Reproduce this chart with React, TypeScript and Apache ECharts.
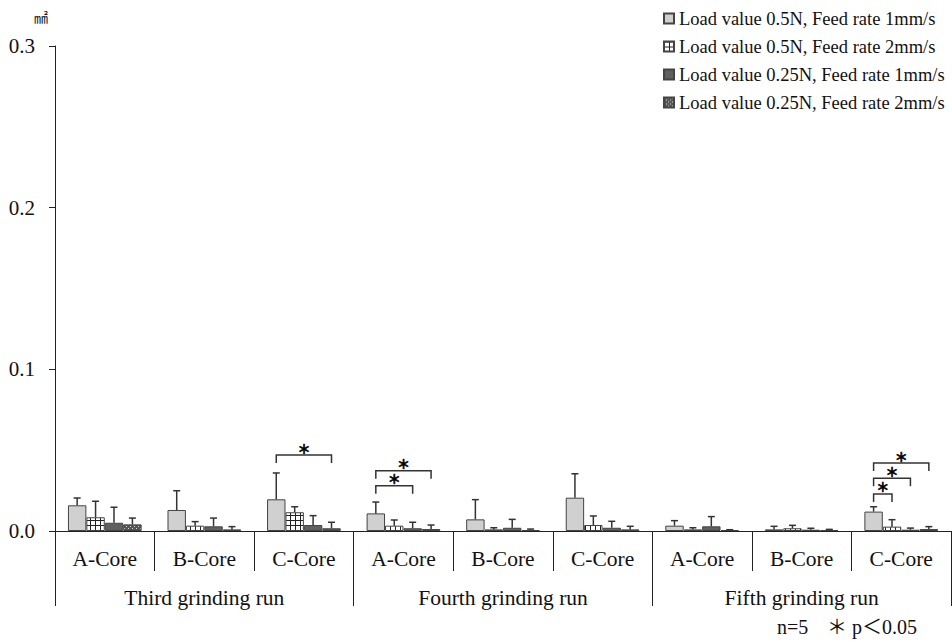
import React, { useEffect, useRef } from "react";
import * as echarts from "echarts";

// Cores within each grinding run
const categories = [
  "A-Core", "B-Core", "C-Core",
  "A-Core", "B-Core", "C-Core",
  "A-Core", "B-Core", "C-Core",
];
const runs = ["Third grinding run", "Fourth grinding run", "Fifth grinding run"];

const seriesNames = [
  "Load value 0.5N, Feed rate 1mm/s",
  "Load value 0.5N, Feed rate 2mm/s",
  "Load value 0.25N, Feed rate 1mm/s",
  "Load value 0.25N, Feed rate 2mm/s",
];

// Mean worn area (mm²)
const meanLoad05Feed1 = [0.0159, 0.013, 0.0196, 0.0109, 0.0072, 0.0206, 0.0033, 0.001, 0.012];
const meanLoad05Feed2 = [0.0085, 0.0033, 0.0116, 0.0033, 0.001, 0.0037, 0.001, 0.0017, 0.0027];
const meanLoad025Feed1 = [0.0051, 0.0029, 0.0037, 0.0017, 0.002, 0.002, 0.0029, 0.0008, 0.0008];
const meanLoad025Feed2 = [0.0041, 0.001, 0.0017, 0.0012, 0.0006, 0.001, 0.0006, 0.0006, 0.0012];

// Standard deviations (upper error bars)
const sdLoad05Feed1 = [0.0045, 0.0119, 0.0163, 0.007, 0.0122, 0.0148, 0.0031, 0.0019, 0.003];
const sdLoad05Feed2 = [0.0099, 0.0025, 0.0034, 0.0035, 0.001, 0.0056, 0.001, 0.0018, 0.0043];
const sdLoad025Feed1 = [0.0096, 0.0051, 0.0058, 0.0037, 0.0052, 0.004, 0.006, 0.0009, 0.001];
const sdLoad025Feed2 = [0.0039, 0.0017, 0.0037, 0.0025, 0.0006, 0.0019, 0.0002, 0.0004, 0.0015];

// Significant pairs: [category index, first bar, second bar, bracket height]
const significance: [number, number, number, number][] = [
  [2, 0, 3, 0.047],
  [3, 0, 2, 0.028],
  [3, 0, 3, 0.0373],
  [8, 0, 1, 0.0229],
  [8, 0, 2, 0.0326],
  [8, 0, 3, 0.042],
];

const yTicks = [0, 0.1, 0.2, 0.3];

const means = [meanLoad05Feed1, meanLoad05Feed2, meanLoad025Feed1, meanLoad025Feed2];
const sds = [sdLoad05Feed1, sdLoad05Feed2, sdLoad025Feed1, sdLoad025Feed2];

const CAT_GAP = 0.26;
const SERIF = "Liberation Serif";
const CJK = "Noto Sans CJK JP";

function makeGridPattern(): HTMLCanvasElement {
  const c = document.createElement("canvas");
  c.width = 5;
  c.height = 5;
  const ctx = c.getContext("2d")!;
  ctx.fillStyle = "#ffffff";
  ctx.fillRect(0, 0, 5, 5);
  ctx.fillStyle = "#222222";
  ctx.fillRect(0, 0, 1, 5);
  ctx.fillRect(0, 0, 5, 1);
  return c;
}

function makeDotPattern(): HTMLCanvasElement {
  const c = document.createElement("canvas");
  c.width = 4;
  c.height = 4;
  const ctx = c.getContext("2d")!;
  ctx.fillStyle = "#555555";
  ctx.fillRect(0, 0, 4, 4);
  ctx.fillStyle = "#d8d8d8";
  ctx.fillRect(0, 0, 1, 1);
  ctx.fillRect(2, 2, 1, 1);
  return c;
}

function barOffset(api: any, barIndex: number): number {
  const band = api.size([1, 0])[0];
  const bw = (band * (1 - CAT_GAP)) / 4;
  return (barIndex - 1.5) * bw;
}

export default function App() {
  const ref = useRef<HTMLDivElement>(null);

  useEffect(() => {
    if (!ref.current) return;
    const chart = echarts.init(ref.current, undefined, { renderer: "svg" });

    const fills: any[] = [
      "#d0d0d0",
      { image: makeGridPattern(), repeat: "repeat" },
      "#606060",
      { image: makeDotPattern(), repeat: "repeat" },
    ];

    const barSeries = seriesNames.map((name, i) => ({
      name,
      type: "bar",
      xAxisIndex: 0,
      data: means[i],
      barGap: "0%",
      barCategoryGap: `${CAT_GAP * 100}%`,
      itemStyle: { color: fills[i], borderColor: "#444", borderWidth: 1 },
      z: 2,
    }));

    const errData: number[][] = [];
    means.forEach((arr, s) => {
      arr.forEach((m, c) => errData.push([c, s, m, sds[s][c]]));
    });

    const errSeries = {
      type: "custom",
      name: "sd",
      xAxisIndex: 0,
      data: errData,
      z: 3,
      silent: true,
      renderItem: (_p: any, api: any) => {
        const c = api.value(0);
        const s = api.value(1);
        const m = api.value(2);
        const sd = api.value(3);
        const base = api.coord([c, m]);
        const top = api.coord([c, m + sd]);
        const x = base[0] + barOffset(api, s);
        const style = { stroke: "#333", lineWidth: 1.5 };
        return {
          type: "group",
          children: [
            { type: "line", shape: { x1: x, y1: base[1], x2: x, y2: top[1] }, style },
            { type: "line", shape: { x1: x - 3.5, y1: top[1], x2: x + 3.5, y2: top[1] }, style },
          ],
        };
      },
    };

    const sigSeries = {
      type: "custom",
      name: "sig",
      xAxisIndex: 0,
      data: significance,
      z: 4,
      silent: true,
      renderItem: (_p: any, api: any) => {
        const c = api.value(0);
        const a = api.value(1);
        const b = api.value(2);
        const h = api.value(3);
        const p = api.coord([c, h]);
        const x1 = p[0] + barOffset(api, a);
        const x2 = p[0] + barOffset(api, b);
        const y = p[1];
        return {
          type: "group",
          children: [
            {
              type: "polyline",
              shape: { points: [[x1, y + 8], [x1, y], [x2, y], [x2, y + 8]] },
              style: { stroke: "#333", lineWidth: 1.5, fill: "none" },
            },
            {
              type: "text",
              x: (x1 + x2) / 2,
              y: y - 7,
              style: {
                text: "＊",
                fontSize: 13,
                lineHeight: 12,
                fontWeight: "bold",
                fontFamily: CJK,
                fill: "#000",
                stroke: "#000",
                lineWidth: 0.6,
                align: "center",
                verticalAlign: "middle",
              },
            },
          ],
        };
      },
    };

    chart.setOption({
      animation: false,
      backgroundColor: "#ffffff",
      grid: { left: 55, right: 1, top: 46, bottom: 111, containLabel: false },
      legend: {
        orient: "vertical",
        left: 658,
        top: 4,
        data: seriesNames,
        icon: "rect",
        itemWidth: 10,
        itemHeight: 10,
        itemGap: 9,
        textStyle: { fontFamily: SERIF, fontSize: 18.5, color: "#111" },
        selectedMode: false,
      },
      xAxis: [
        {
          type: "category",
          data: categories,
          position: "bottom",
          axisLine: { show: true, lineStyle: { color: "#222", width: 1 } },
          axisTick: { show: true, interval: 0, length: 40, lineStyle: { color: "#222" } },
          axisLabel: {
            interval: 0,
            margin: 17,
            fontFamily: SERIF,
            fontSize: 21.5,
            color: "#111",
          },
        },
        {
          type: "category",
          data: runs,
          position: "bottom",
          offset: 0,
          axisLine: { show: false },
          axisTick: { show: true, interval: 0, length: 75, lineStyle: { color: "#222" } },
          axisLabel: {
            interval: 0,
            margin: 56,
            fontFamily: SERIF,
            fontSize: 21.5,
            color: "#111",
          },
        },
      ],
      yAxis: {
        type: "value",
        min: yTicks[0],
        max: yTicks[yTicks.length - 1],
        interval: 0.1,
        axisLine: { show: true, lineStyle: { color: "#222", width: 1 } },
        axisTick: { show: true, length: 6, lineStyle: { color: "#222" } },
        splitLine: { show: false },
        axisLabel: {
          margin: 20,
          fontFamily: SERIF,
          fontSize: 21,
          color: "#111",
          formatter: (v: number) => v.toFixed(1),
        },
      },
      graphic: [
        {
          type: "text",
          x: 41,
          y: 17,
          style: {
            text: "㎟",
            fontSize: 14,
            fontFamily: CJK,
            fill: "#111",
            align: "center",
            verticalAlign: "middle",
          },
        },
        {
          type: "text",
          x: 777,
          y: 627,
          style: {
            text: "n=5",
            fontSize: 20,
            fontFamily: SERIF,
            fill: "#111",
            align: "left",
            verticalAlign: "middle",
          },
        },
        {
          type: "text",
          x: 827,
          y: 627,
          style: {
            text: "＊ p＜0.05",
            fontSize: 20,
            fontFamily: `${SERIF}, ${CJK}`,
            fill: "#111",
            align: "left",
            verticalAlign: "middle",
          },
        },
      ],
      series: [...barSeries, errSeries, sigSeries],
    });

    return () => chart.dispose();
  }, []);

  return (
    <div
      ref={ref}
      style={{ position: "fixed", left: 0, top: 0, width: 952, height: 642, background: "#fff" }}
    />
  );
}
